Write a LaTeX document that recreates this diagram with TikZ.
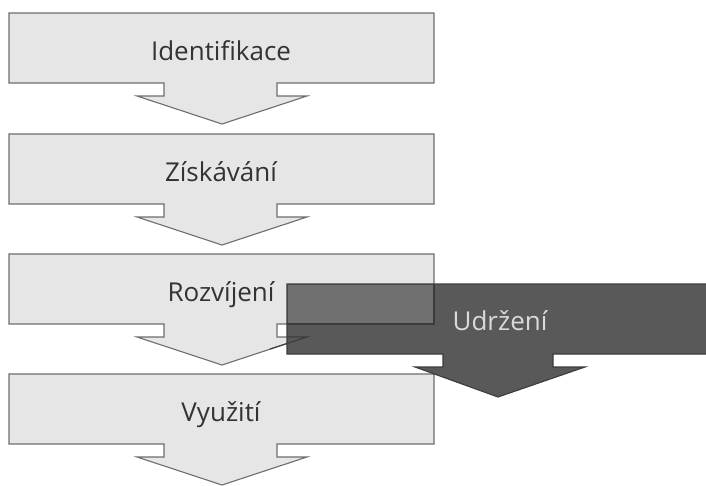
\documentclass[tikz,border=0pt]{standalone}
\usepackage{fontspec}
\setmainfont{Open Sans}
\definecolor{stepfill}{HTML}{E6E6E6}
\definecolor{stepline}{HTML}{6E6E6E}
\definecolor{keepfill}{HTML}{595959}
\definecolor{keepline}{HTML}{3C3C3C}
\definecolor{keeptext}{HTML}{DADADA}
\begin{document}
\begin{tikzpicture}[x=1pt,y=-1pt,
    stepshape/.style={fill=stepfill,draw=stepline,line width=1.1pt,line join=miter},
    keepshape/.style={fill=keepfill,draw=keepline,line width=1.1pt},
    steptext/.style={anchor=base,text=black!80,font=\fontsize{26}{30}\selectfont},
    keeptext/.style={anchor=base,text=keeptext,font=\fontsize{26}{30}\selectfont}]
    \clip (0,0) rectangle (706,485);
    \fill[white] (0,0) rectangle (706,485);
    % four steps, one under the other
    \foreach \t/\n/\s in {13/identifikace/Identifikace,134/ziskavani/Získávání,254/rozvijeni/Rozvíjení,374/vyuziti/Využití}{
        \draw[stepshape] (9,\t)--(434,\t)--(434,\t+70)--(277,\t+70)--(277,\t+83)--(307,\t+83)
            --(222,\t+111)--(137,\t+83)--(164,\t+83)--(164,\t+70)--(9,\t+70)--cycle;
        \node[steptext] (\n) at (221,\t+47) {\s};
    }
    % the long bar laid over the third step
    \draw[keepshape] (287,284)--(710,284)--(710,354)--(553,354)--(553,367)--(585,367)
        --(498,397)--(415,367)--(443,367)--(443,354)--(287,354)--cycle;
    \fill[white,opacity=0.14] (287.6,284.6) rectangle (434,324);
    \draw[draw=keepline,line width=1.1pt] (434,284)--(434,324)--(287,324);
    \draw[draw=keepline,line width=1.1pt] (287,337)--(307,337)--(270,349);
    \node[keeptext] (udrzeni) at (500,330) {Udržení};
\end{tikzpicture}
\end{document}
